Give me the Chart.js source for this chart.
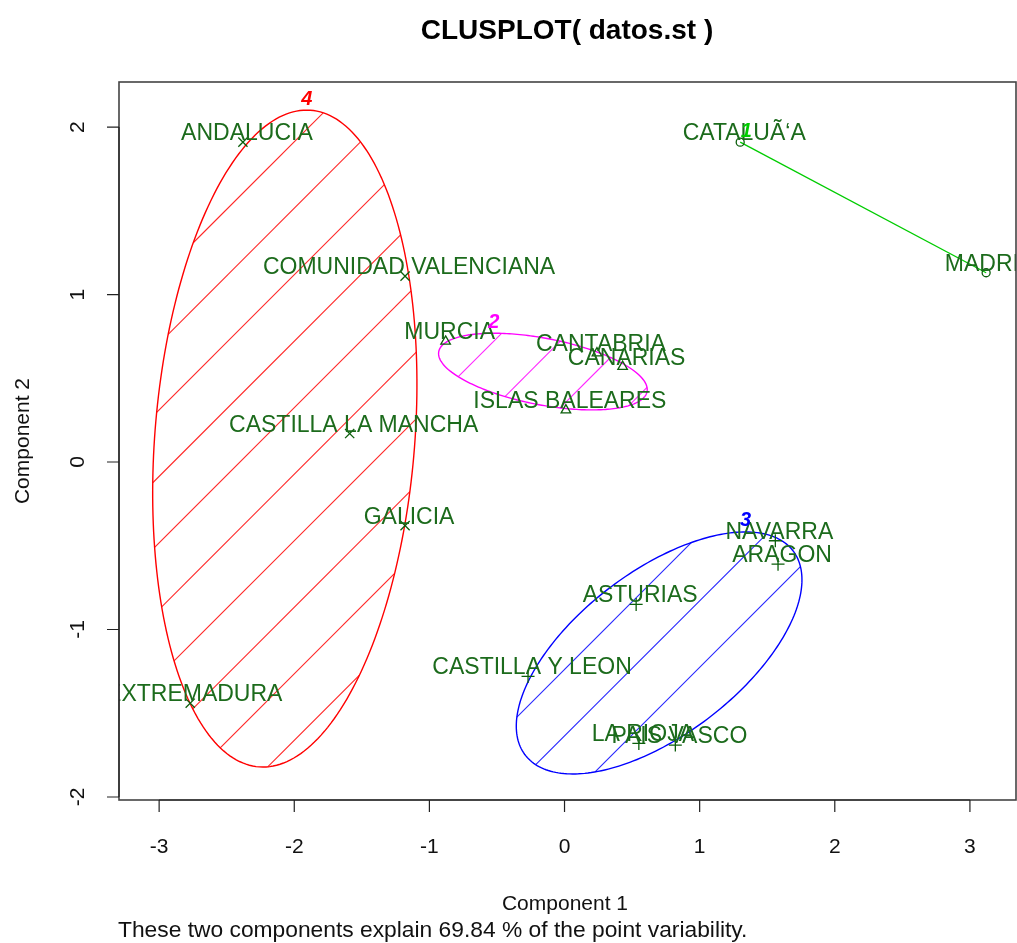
<!DOCTYPE html>
<html>
<head>
<meta charset="utf-8">
<script src="https://cdn.jsdelivr.net/npm/chart.js@4.4.1/dist/chart.umd.min.js"></script>
<style>
  html, body { margin: 0; padding: 0; background: #fff; overflow: hidden; }
  canvas { display: block; }
</style>
</head>
<body>
<canvas id="clus" width="1017" height="943"></canvas>
<script>
// Regiones y coordenadas en las dos primeras componentes
const regions = ['CATALUÃ‘A', 'MADRID',
  'MURCIA', 'CANTABRIA', 'CANARIAS', 'ISLAS BALEARES',
  'NAVARRA', 'ARAGON', 'ASTURIAS', 'CASTILLA Y LEON', 'LA RIOJA', 'PAIS VASCO',
  'ANDALUCIA', 'COMUNIDAD VALENCIANA', 'CASTILLA LA MANCHA', 'GALICIA', 'EXTREMADURA'];
const comp1 = [1.30, 3.12,
  -0.88, 0.24, 0.43, 0.01,
  1.56, 1.58, 0.53, -0.27, 0.55, 0.82,
  -2.38, -1.18, -1.59, -1.18, -2.77];
const comp2 = [1.91, 1.13,
  0.72, 0.65, 0.57, 0.31,
  -0.47, -0.61, -0.85, -1.28, -1.68, -1.69,
  1.91, 1.11, 0.17, -0.38, -1.44];
const cluster = [1, 1,
  2, 2, 2, 2,
  3, 3, 3, 3, 3, 3,
  4, 4, 4, 4, 4];

const clusterIds = [1, 2, 3, 4];
const clusterColors = ['#00cc00', '#ff00ff', '#0000ff', '#ff0000'];
const clusterShapes = ['circle', 'triangle', 'cross', 'crossRot'];

// Elipses (unidades de datos): centro, semiejes, ángulo. El cluster 1 es un segmento.
const ellCx = [null, -0.16, 0.70, -2.07];
const ellCy = [null, 0.54, -1.14, 0.14];
const ellA = [null, 0.78, 1.17, 1.97];
const ellB = [null, 0.20, 0.52, 0.96];
const ellAngle = [null, -8.5, 28.6, 83.8];

const xTicks = [-3, -2, -1, 0, 1, 2, 3];
const yTicks = [-2, -1, 0, 1, 2];

const txtColor = '#1c6b1c';
const FONT = '"Liberation Sans", Arial, sans-serif';

const datasets = clusterIds.map((k, i) => {
  const pts = [];
  cluster.forEach((c, j) => {
    if (c === k) pts.push({ x: comp1[j], y: comp2[j], name: regions[j] });
  });
  return {
    label: 'Cluster ' + k,
    data: pts,
    showLine: k === 1,
    borderColor: clusterColors[i],
    borderWidth: 1.3,
    pointStyle: clusterShapes[i],
    pointRadius: clusterShapes[i] === 'circle' ? 4 : (clusterShapes[i] === 'triangle' ? 5.5 : 6.5),
    pointBorderColor: '#0b5e0b',
    pointBackgroundColor: 'rgba(0,0,0,0)',
    pointBorderWidth: 1.3
  };
});

function ellipsePoint(i, t) {
  const th = ellAngle[i] * Math.PI / 180;
  return {
    x: ellCx[i] + ellA[i] * Math.cos(th) * Math.cos(t) - ellB[i] * Math.sin(th) * Math.sin(t),
    y: ellCy[i] + ellA[i] * Math.sin(th) * Math.cos(t) + ellB[i] * Math.cos(th) * Math.sin(t)
  };
}

const clusPlugin = {
  id: 'clus',
  beforeDatasetsDraw(chart) {
    const { ctx, chartArea: a } = chart;
    const xs = chart.scales.x, ys = chart.scales.y;
    ctx.save();
    ctx.beginPath();
    ctx.rect(a.left, a.top, a.right - a.left, a.bottom - a.top);
    ctx.clip();
    clusterIds.forEach((k, i) => {
      if (ellCx[i] === null) return;
      const poly = [];
      for (let s = 0; s < 240; s++) {
        const p = ellipsePoint(i, s / 240 * 2 * Math.PI);
        poly.push([xs.getPixelForValue(p.x), ys.getPixelForValue(p.y)]);
      }
      ctx.strokeStyle = clusterColors[i];
      // rayado a 45 grados: x + y = c, cortado con el polígono
      ctx.lineWidth = 1.1;
      ctx.globalAlpha = 0.85;
      for (let c = 37; c < 2200; c += 66.5) {
        const hits = [];
        for (let e = 0; e < poly.length; e++) {
          const p = poly[e], q = poly[(e + 1) % poly.length];
          const fp = p[0] + p[1] - c, fq = q[0] + q[1] - c;
          if ((fp < 0) !== (fq < 0)) {
            const u = fp / (fp - fq);
            hits.push([p[0] + u * (q[0] - p[0]), p[1] + u * (q[1] - p[1])]);
          }
        }
        hits.sort((m, n) => m[0] - n[0]);
        for (let h = 0; h + 1 < hits.length; h += 2) {
          ctx.beginPath();
          ctx.strokeStyle = clusterColors[i];
          ctx.moveTo(hits[h][0], hits[h][1]);
          ctx.lineTo(hits[h + 1][0], hits[h + 1][1]);
          ctx.stroke();
        }
      }
      ctx.globalAlpha = 1;
      ctx.lineWidth = 1.4;
      ctx.beginPath();
      poly.forEach((p, e) => (e === 0 ? ctx.moveTo(p[0], p[1]) : ctx.lineTo(p[0], p[1])));
      ctx.closePath();
      ctx.stroke();
    });
    ctx.restore();
  },
  afterDatasetsDraw(chart) {
    const { ctx, chartArea: a } = chart;
    const xs = chart.scales.x, ys = chart.scales.y;
    ctx.save();
    ctx.beginPath();
    ctx.rect(a.left, a.top, a.right - a.left, a.bottom - a.top);
    ctx.clip();
    // etiquetas de las regiones
    ctx.font = '23px ' + FONT;
    ctx.fillStyle = txtColor;
    ctx.textAlign = 'center';
    ctx.textBaseline = 'alphabetic';
    regions.forEach((r, j) => {
      ctx.fillText(r, xs.getPixelForValue(comp1[j]) + 4, ys.getPixelForValue(comp2[j]) - 2);
    });
    ctx.restore();

    // número de cada cluster sobre su elipse
    ctx.save();
    ctx.font = 'italic bold 20px ' + FONT;
    ctx.textAlign = 'center';
    ctx.textBaseline = 'middle';
    clusterIds.forEach((k, i) => {
      let top;
      if (ellCx[i] === null) {
        const pts = datasets[i].data;
        top = pts.reduce((m, p) => (p.y > m.y ? p : m), pts[0]);
      } else {
        const th = ellAngle[i] * Math.PI / 180;
        const t = Math.atan2(ellB[i] * Math.cos(th), ellA[i] * Math.sin(th));
        top = ellipsePoint(i, t);
      }
      ctx.fillStyle = clusterColors[i];
      ctx.fillText(String(k), xs.getPixelForValue(top.x) + (ellCx[i] === null ? 6 : 0), ys.getPixelForValue(top.y) - 11);
    });
    ctx.restore();
  },
  afterDraw(chart) {
    const { ctx, chartArea: a } = chart;
    const xs = chart.scales.x, ys = chart.scales.y;
    ctx.save();
    // caja
    ctx.strokeStyle = '#444';
    ctx.lineWidth = 1.6;
    ctx.strokeRect(a.left, a.top, a.right - a.left, a.bottom - a.top);

    // ejes
    ctx.strokeStyle = '#222';
    ctx.lineWidth = 1.2;
    ctx.beginPath();
    const x0 = xs.getPixelForValue(xTicks[0]), x1 = xs.getPixelForValue(xTicks[xTicks.length - 1]);
    ctx.moveTo(x0, a.bottom); ctx.lineTo(x1, a.bottom);
    xTicks.forEach(v => {
      const px = xs.getPixelForValue(v);
      ctx.moveTo(px, a.bottom); ctx.lineTo(px, a.bottom + 12);
    });
    const y0 = ys.getPixelForValue(yTicks[0]), y1 = ys.getPixelForValue(yTicks[yTicks.length - 1]);
    ctx.moveTo(a.left, y0); ctx.lineTo(a.left, y1);
    yTicks.forEach(v => {
      const py = ys.getPixelForValue(v);
      ctx.moveTo(a.left, py); ctx.lineTo(a.left - 12, py);
    });
    ctx.stroke();

    ctx.fillStyle = '#111';
    ctx.font = '21px ' + FONT;
    ctx.textAlign = 'center';
    ctx.textBaseline = 'middle';
    xTicks.forEach(v => ctx.fillText(String(v), xs.getPixelForValue(v), 847));
    yTicks.forEach(v => {
      ctx.save();
      ctx.translate(78, ys.getPixelForValue(v));
      ctx.rotate(-Math.PI / 2);
      ctx.fillText(String(v), 0, 0);
      ctx.restore();
    });

    // títulos
    ctx.fillText('Component 1', 565, 904);
    ctx.save();
    ctx.translate(23, 441);
    ctx.rotate(-Math.PI / 2);
    ctx.fillText('Component 2', 0, 0);
    ctx.restore();
    ctx.textAlign = 'left';
    ctx.font = '22.8px ' + FONT;
    ctx.fillText('These two components explain 69.84 % of the point variability.', 118, 931);

    ctx.textAlign = 'center';
    ctx.font = 'bold 28px ' + FONT;
    ctx.fillStyle = '#000';
    ctx.fillText('CLUSPLOT( datos.st )', 567, 31);
    ctx.restore();
  }
};

new Chart(document.getElementById('clus'), {
  type: 'scatter',
  data: { datasets },
  options: {
    responsive: false,
    animation: false,
    devicePixelRatio: 1,
    layout: { autoPadding: false, padding: { left: 119, top: 82, right: 1, bottom: 143 } },
    plugins: { legend: { display: false }, tooltip: { enabled: false } },
    scales: {
      x: {
        type: 'linear', display: false, min: -3.297, max: 3.341,
        afterBuildTicks: s => { s.ticks = xTicks.map(v => ({ value: v })); }
      },
      y: {
        type: 'linear', display: false, min: -2.018, max: 2.269,
        afterBuildTicks: s => { s.ticks = yTicks.map(v => ({ value: v })); }
      }
    }
  },
  plugins: [clusPlugin]
});
</script>
</body>
</html>
